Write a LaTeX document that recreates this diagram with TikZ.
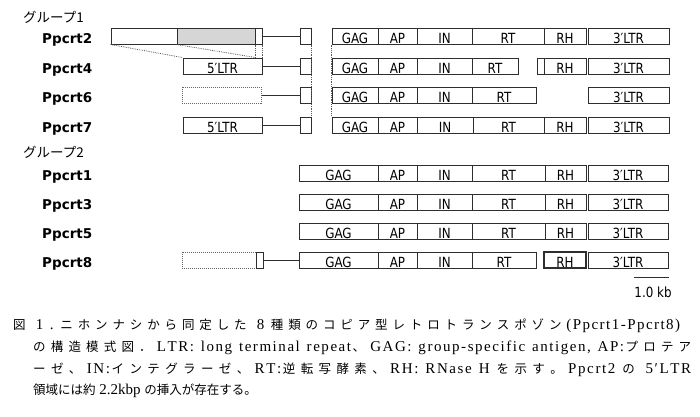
\documentclass[tikz,border=0pt]{standalone}
\usepackage{fontspec}
\setmainfont{Liberation Serif}
\newfontfamily\cjk{Noto Sans CJK JP}
\newfontfamily\boxf[FakeStretch=0.85]{DejaVu Sans}
\newfontfamily\labf{DejaVu Sans}
\definecolor{linec}{HTML}{2E2E2E}
\definecolor{grayfill}{HTML}{D6D6D6}
\def\gw{1}
\newcommand\jfont{\cjk\fontsize{12.5}{15}\selectfont\def\gw{1}}
\newcommand\lfont{\rmfamily\fontsize{15}{17}\selectfont\def\gw{0.3}}
\def\myspcEnd{\myspcEnd}
\def\JON{JON}
\def\JOFF{JOFF}
\newcommand\GG{\hskip0pt plus \gw fil\relax}
\newcommand\myspc[1]{\myspcA#1\myspcEnd}
\def\myspcA#1{\ifx#1\myspcEnd\unskip\else
  \ifx#1\JON\jfont\else\ifx#1\JOFF\lfont\else#1\GG\fi\fi
  \expandafter\myspcA\fi}
\tikzset{
  seg/.style={draw=linec, line width=1pt, fill=white, rectangle, inner xsep=0pt, inner ysep=0.5pt,
    minimum height=16pt, text height=15pt, text depth=0pt, font=\boxf\fontsize{14}{16}\selectfont},
  dotbox/.style={seg, draw=black!60, densely dotted},
  guide/.style={draw=black!65, densely dotted, line width=0.8pt},
  conn/.style={draw=linec, line width=1pt},
  rowlab/.style={anchor=base west, inner sep=0pt, font=\labf\bfseries\fontsize{13.5}{16}\selectfont},
  grplab/.style={anchor=west, inner sep=0pt, font=\cjk\fontsize{13.5}{16}\selectfont},
  capline/.style={anchor=base west, inner sep=0pt, font=\lfont},
}
\newcommand\seg[6][]{\node[seg,minimum width={#4-#3},#1] (#2) at ({(#3+#4)/2},#5) {#6};}
\begin{document}
\begin{tikzpicture}[x=1pt,y=-1pt]
\useasboundingbox (0,0) rectangle (700,416);
% group labels
\node[grplab] (g1) at (23,17) {グループ1};
\node[grplab] (g2) at (23,152.5) {グループ2};
% row labels
\node[rowlab] (l2) at (42,43.5) {Ppcrt2};
\node[rowlab] (l4) at (42,73.5) {Ppcrt4};
\node[rowlab] (l6) at (42,102.5) {Ppcrt6};
\node[rowlab] (l7) at (42,132.5) {Ppcrt7};
\node[rowlab] (l1) at (42,180.5) {Ppcrt1};
\node[rowlab] (l3) at (42,209.5) {Ppcrt3};
\node[rowlab] (l5) at (42,238.5) {Ppcrt5};
\node[rowlab] (l8) at (42,267.5) {Ppcrt8};
% ---- Ppcrt2
\seg{p2L}{111}{177}{36}{}
\seg[fill=grayfill]{p2g}{177}{255}{36}{}
\seg{p2w}{255}{262}{36}{}
\seg{p2s}{300}{311}{36}{}
\seg{p2gag}{332}{378}{36}{GAG}
\seg{p2ap}{378}{417}{36}{AP}
\seg{p2in}{417}{472}{36}{IN}
\seg{p2rt}{472}{544}{36}{RT}
\seg{p2rh}{544}{586}{36}{RH}
\seg{p2ltr}{588}{669}{36}{3′LTR}
\draw[conn] (p2w.east) -- (p2s.west);
% ---- Ppcrt4
\seg{p4L}{183}{262}{66}{5′LTR\hspace{13pt}}
\seg{p4s}{300}{311}{66}{}
\seg{p4gag}{332}{378}{66}{GAG}
\seg{p4ap}{378}{417}{66}{AP}
\seg{p4in}{417}{472}{66}{IN}
\seg{p4rt}{472}{518}{66}{RT}
\seg{p4x}{537}{544}{66}{}
\seg{p4rh}{544}{586}{66}{RH}
\seg{p4ltr}{588}{669}{66}{3′LTR}
\draw[conn] (p4L.east) -- (p4s.west);
% ---- Ppcrt6
\seg[dotbox]{p6L}{182}{261}{95}{}
\seg{p6s}{300}{311}{95}{}
\seg{p6gag}{332}{378}{95}{GAG}
\seg{p6ap}{378}{417}{95}{AP}
\seg{p6in}{417}{472}{95}{IN}
\seg{p6rt}{472}{536}{95}{RT}
\seg{p6ltr}{588}{669}{95}{3′LTR}
\draw[conn] (p6L.east) -- (p6s.west);
% ---- Ppcrt7
\seg{p7L}{183}{262}{125}{5′LTR\hspace{13pt}}
\seg{p7s}{300}{311}{125}{}
\seg{p7gag}{332}{378}{125}{GAG}
\seg{p7ap}{378}{417}{125}{AP}
\seg{p7in}{417}{473}{125}{IN}
\seg{p7rt}{473}{544}{125}{RT}
\seg{p7rh}{544}{586}{125}{RH}
\seg{p7ltr}{588}{669}{125}{3′LTR}
\draw[conn] (p7L.east) -- (p7s.west);
% ---- guides
\coordinate (gx) at (p2g.south east |- p4L.north);
\draw[guide] (p2L.south west) -- (p4L.north west);
\draw[guide] (p2g.south west) -- (gx);
\draw[guide] (p2g.south east) -- (gx);
\draw[guide] (p2w.south east) -- (p4L.north east);
\draw[guide] (p2s.south east) -- (p7s.north east);
\draw[guide] (p2gag.south west) -- (p7gag.north west);
% ---- group 2
\foreach \r/\y in {1/173,3/202,5/231}{
  \seg{q\r gag}{299}{378}{\y}{GAG}
  \seg{q\r ap}{378}{417}{\y}{AP}
  \seg{q\r in}{417}{472}{\y}{IN}
  \seg{q\r rt}{472}{545}{\y}{RT}
  \seg{q\r rh}{545}{586}{\y}{RH}
  \seg{q\r ltr}{588}{668}{\y}{3′LTR}
}
% ---- Ppcrt8
\seg[dotbox]{q8L}{182}{256}{260}{}
\seg{q8s}{256}{263}{260}{}
\seg{q8gag}{299}{378}{260}{GAG}
\seg{q8ap}{378}{417}{260}{AP}
\seg{q8in}{417}{472}{260}{IN}
\seg{q8rt}{472}{536}{260}{RT}
\seg[line width=1.6pt]{q8rh}{544}{586}{260}{RH}
\seg{q8ltr}{588}{668}{260}{3′LTR}
\draw[conn] (q8s.east) -- (q8gag.west);
% ---- scale bar
\coordinate (sbL) at (634,277);
\coordinate (sbR) at (669,277);
\draw[conn] (sbL) -- (sbR);
\node[font=\boxf\fontsize{14}{16}\selectfont, inner sep=0pt] (sbt) at (653,292) {1.0 kb};
% ---- caption
\node[capline] (c1) at (13,329) {\hbox to 667pt{\myspc{\JON 図\JOFF~1~.~\JON ニホンナシから同定した\JOFF~8~\JON 種類のコピア型レトロトランスポゾン\JOFF(Ppcrt1-Ppcrt8)}}};
\node[capline] (c2) at (33,351) {\hbox to 658pt{\myspc{\JON の構造模式図．\JOFF LTR:~long~terminal~repeat\JON 、\JOFF GAG:~group-specific~antigen,~AP:\JON プロテア}}};
\node[capline] (c3) at (33,373) {\hbox to 658pt{\myspc{\JON ーゼ、\JOFF IN:\JON インテグラーゼ、\JOFF RT:\JON 逆転写酵素、\JOFF RH:~RNase~H~\JON を示す。\JOFF Ppcrt2~\JON の\JOFF~5′LTR}}};
\node[capline] (c4) at (33,394) {\hbox{\myspc{\JON 領域には約\JOFF~2.2kbp~\JON の挿入が存在する。}}};
\end{tikzpicture}
\end{document}
